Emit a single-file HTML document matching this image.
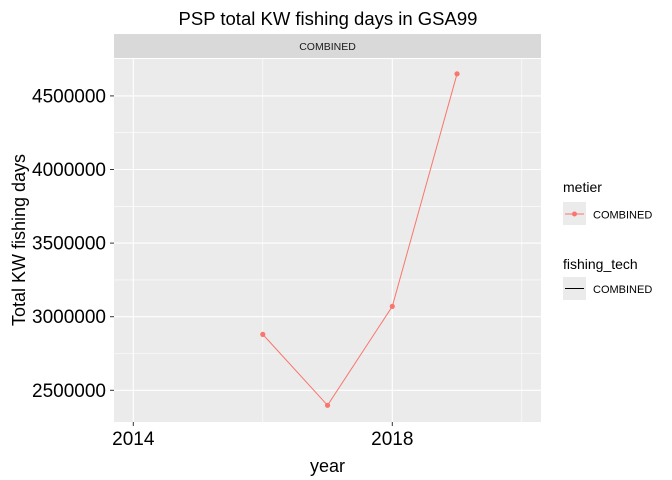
<!DOCTYPE html>
<html><head><meta charset="utf-8"><style>
body{margin:0;background:#fff;}
svg{display:block;font-family:"Liberation Sans",Arial,sans-serif;}
</style></head><body>
<svg id="chart" width="672" height="480">
<rect width="672" height="480" fill="#fff"/>
<text x="328" y="25" text-anchor="middle" font-size="18.5">PSP total KW fishing days in GSA99</text>
<rect x="114" y="34" width="427" height="24" fill="#d9d9d9"/>
<text x="327.5" y="50" text-anchor="middle" font-size="10.5" fill="#1a1a1a">COMBINED</text>
<rect x="114" y="59" width="427" height="363" fill="#ebebeb"/>
<g id="grid"></g>
<g id="marks"></g>
<g id="axes"></g>
<text x="327.5" y="472" text-anchor="middle" font-size="18">year</text>
<text transform="translate(25,240) rotate(-90)" text-anchor="middle" font-size="18">Total KW fishing days</text>
<g>
<text x="563" y="192" font-size="14">metier</text>
<rect x="563" y="202" width="23" height="23" fill="#ebebeb"/>
<line x1="565" y1="214" x2="584" y2="214" stroke="#F8766D" stroke-width="1"/>
<circle cx="574.5" cy="214" r="2.5" fill="#F8766D"/>
<text x="593" y="218.5" font-size="11">COMBINED</text>
<text x="563" y="269" font-size="14">fishing_tech</text>
<rect x="563" y="277" width="23" height="23" fill="#ebebeb"/>
<line x1="565" y1="288.5" x2="584" y2="288.5" stroke="#000" stroke-width="1"/>
<text x="593" y="293" font-size="11">COMBINED</text>
</g>
</svg>
<script>
const years = [2016, 2017, 2018, 2019];
const kwDays = [2880000, 2398000, 3070000, 4650000];
const xTicks = [2014, 2018];
const xMinor = [2016, 2020];
const yTicks = [2500000, 3000000, 3500000, 4000000, 4500000];
const yMinor = [2750000, 3250000, 3750000, 4250000];
const NS = "http://www.w3.org/2000/svg";
function x(v){ return 133.3 + (v - 2014) * 64.75; }
function y(v){ return 390.3 - (v - 2500000) / 500000 * 73.6; }
function mk(tag, attrs, parent){ const e = document.createElementNS(NS, tag); for (const k in attrs) e.setAttribute(k, attrs[k]); document.getElementById(parent).appendChild(e); return e; }
yMinor.forEach(v => { const e = mk('line', {x1:114, x2:541, y1:y(v), y2:y(v), stroke:'#fff', 'stroke-width':0.6}, 'grid');

 });
xMinor.forEach(v => { const e = mk('line', {x1:x(v), x2:x(v), y1:59, y2:422, stroke:'#fff', 'stroke-width':0.6}, 'grid');

 });
yTicks.forEach(v => { const e = mk('line', {x1:114, x2:541, y1:y(v), y2:y(v), stroke:'#fff', 'stroke-width':1.1}, 'grid');


const t = mk('line', {x1:110, x2:114, y1:y(v), y2:y(v), stroke:'#333', 'stroke-width':1}, 'axes');


const l = mk('text', {x:106, y:y(v)+6.5, 'text-anchor':'end', 'font-size':19, fill:'#000'}, 'axes');
l.textContent = v;

 });
xTicks.forEach(v => { const e = mk('line', {x1:x(v), x2:x(v), y1:59, y2:422, stroke:'#fff', 'stroke-width':1.1}, 'grid');


const t = mk('line', {x1:x(v), x2:x(v), y1:422, y2:426, stroke:'#333', 'stroke-width':1}, 'axes');


const l = mk('text', {x:x(v), y:445, 'text-anchor':'middle', 'font-size':19, fill:'#000'}, 'axes');
l.textContent = v;

 });
const pts = years.map((yr, i) => x(yr) + ',' + y(kwDays[i])).join(' ');
const pl = mk('polyline', {points:pts, fill:'none', stroke:'#F8766D', 'stroke-width':1}, 'marks');


years.forEach((yr, i) => { const c = mk('circle', {cx:x(yr), cy:y(kwDays[i]), r:2.6, fill:'#F8766D'}, 'marks');

 });
</script>
</body></html>
